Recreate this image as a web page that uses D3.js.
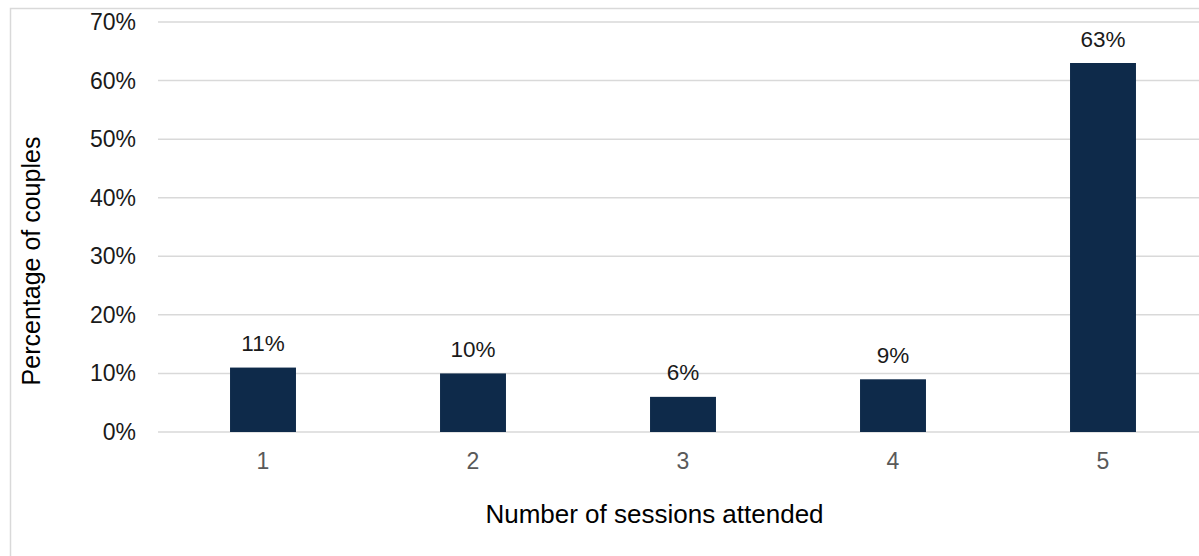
<!DOCTYPE html>
<html><head><meta charset="utf-8">
<script src="https://cdn.jsdelivr.net/npm/d3@7"></script>
<style>body{margin:0;background:#fff;} svg{display:block;font-family:Arial,"Liberation Sans",sans-serif;}</style>
</head><body><svg id="c" width="1199" height="556"></svg>
<script>
const categories = ["1","2","3","4","5"];
const values = [11,10,6,9,63];
const yTicks = [0,10,20,30,40,50,60,70];
const xTitle = "Number of sessions attended";
const yTitle = "Percentage of couples";

const svg = d3.select("#c");
svg.append("rect").attr("x",10.5).attr("y",8.5).attr("width",1210).attr("height",600)
  .attr("fill","#fff").attr("stroke","#d9d9d9").attr("stroke-width",1.5);

const x = d3.scaleBand().domain(categories).range([158,1208]).paddingInner(0.686).paddingOuter(0.343);
const y = d3.scaleLinear().domain([0,70]).range([432,22]);

const g = svg.append("g");
g.selectAll("line.grid").data(yTicks).join("line")
  .attr("x1",158).attr("x2",1208).attr("y1",d=>y(d)).attr("y2",d=>y(d))
  .attr("stroke","#d9d9d9").attr("stroke-width",1.5);

g.selectAll("text.yt").data(yTicks).join("text")
  .attr("x",136).attr("y",d=>y(d)).attr("dy","0.35em").attr("text-anchor","end")
  .attr("font-size",23).attr("fill","#1a1a1a").text(d=>d+"%");

g.selectAll("rect.bar").data(values).join("rect")
  .attr("x",(d,i)=>x(categories[i])).attr("width",x.bandwidth())
  .attr("y",d=>y(d)).attr("height",d=>y(0)-y(d)).attr("fill","#0e2a4a");

g.selectAll("text.vl").data(values).join("text")
  .attr("x",(d,i)=>x(categories[i])+x.bandwidth()/2).attr("y",d=>y(d)-16.5)
  .attr("text-anchor","middle").attr("font-size",22.5).attr("fill","#1a1a1a").text(d=>d+"%");

g.selectAll("text.xt").data(categories).join("text")
  .attr("x",d=>x(d)+x.bandwidth()/2).attr("y",461).attr("dy","0.35em")
  .attr("text-anchor","middle").attr("font-size",23).attr("fill","#595959").text(d=>d);

svg.append("text").attr("x",654.5).attr("y",514).attr("dy","0.35em").attr("text-anchor","middle")
  .attr("font-size",26).attr("fill","#000").text(xTitle);
svg.append("text").attr("transform","translate(31,261) rotate(-90)").attr("dy","0.35em")
  .attr("text-anchor","middle").attr("font-size",25).attr("fill","#000").text(yTitle);
</script></body></html>
